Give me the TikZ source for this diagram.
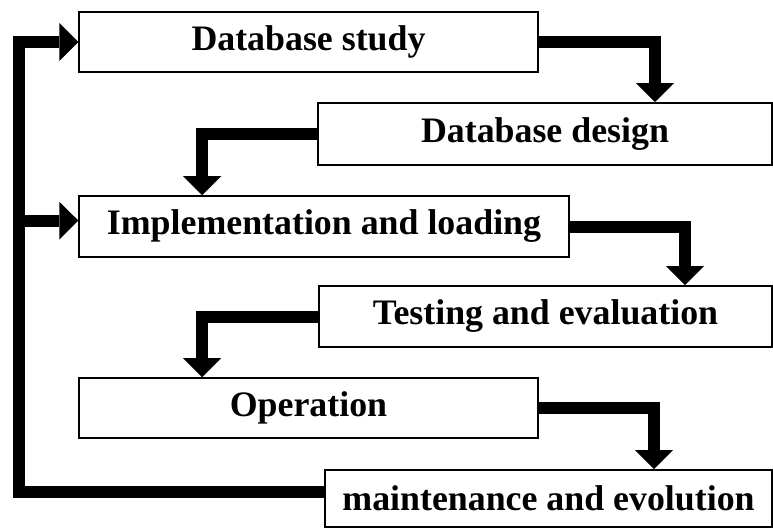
\documentclass[tikz,border=0pt]{standalone}
\usepackage{fontspec}
\setmainfont{Liberation Serif}
\usetikzlibrary{arrows.meta}

\begin{document}
\begin{tikzpicture}[x=0.02cm,y=-0.02cm,
	box/.style={draw,line width=0.9pt,rectangle,inner sep=0pt,minimum height=1.22cm,
		font=\fontsize{20.4}{24}\selectfont\bfseries},
	fat/.style={line width=0.24cm,line join=miter},
	fatarrow/.style={fat,-{Triangle[width=0.76cm,length=0.38cm,line width=0pt]}}]
	\useasboundingbox (0,0) rectangle (773,528);
	%%%%%%%%
	\node[box,minimum width=9.18cm,minimum height=1.2cm] (study) at (308.5,42) {Database study};
	\node[box,minimum width=9.08cm,minimum height=1.24cm] (design) at (545,134) {Database design};
	\node[box,minimum width=9.8cm] (impl) at (324,226.5) {Implementation and loading};
	\node[box,minimum width=9.06cm] (testing) at (545.5,316.5) {Testing and evaluation};
	\node[box,minimum width=9.18cm,minimum height=1.2cm] (operation) at (308.5,408) {Operation};
	\node[box,minimum width=8.94cm,minimum height=1.14cm] (maint) at (548.5,498.5) {maintenance and evolution};
	%%%%%%%%
	\draw[fatarrow] (study.east) -| ([xshift=2.2cm]design.north);
	\draw[fatarrow] (design.west) -| ([xshift=-2.44cm]impl.north);
	\draw[fatarrow] (impl.east) -| ([xshift=2.79cm]testing.north);
	\draw[fatarrow] (testing.west) -| ([xshift=-2.13cm]operation.north);
	\draw[fatarrow] (operation.east) -| ([xshift=2.11cm]maint.north);
	%%%%%%%%
	\draw[fatarrow] ([yshift=0.13cm]maint.west) -| ([xshift=-1.18cm]study.west) -- (study.west);
	\draw[fatarrow] ([xshift=-1.18cm,yshift=0.12cm]impl.west) -- ([yshift=0.12cm]impl.west);
\end{tikzpicture}
\end{document}
